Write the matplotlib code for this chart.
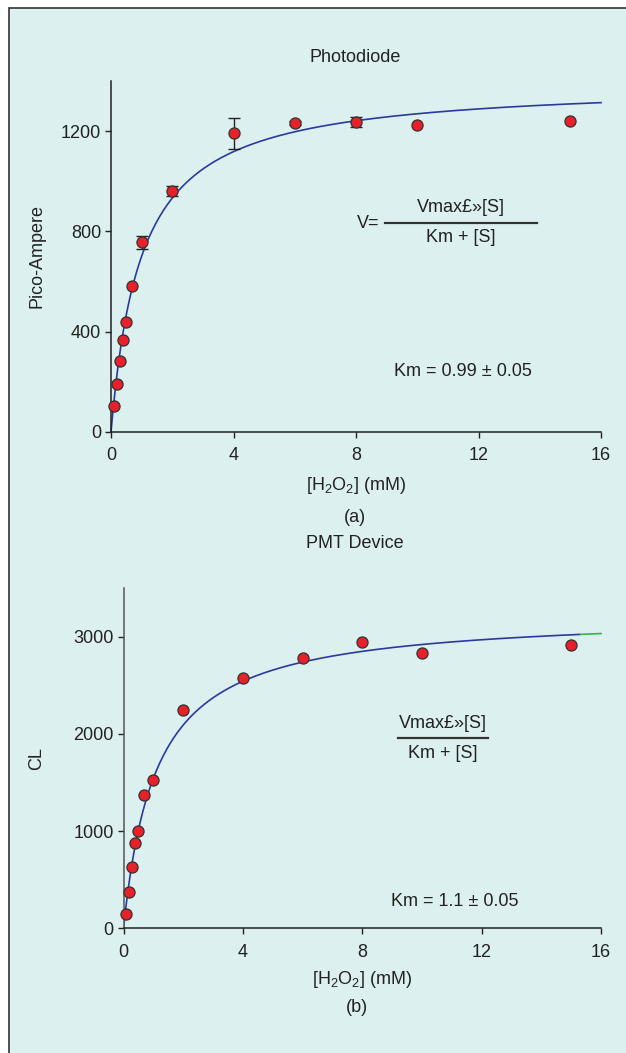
# Michaelis-Menten plots for H2O2: photodiode (a) and PMT device (b)

import numpy as np
import matplotlib
matplotlib.use('Agg')
import matplotlib.pyplot as plt
from matplotlib.patches import Rectangle
from matplotlib.lines import Line2D

plt.rcParams['font.family'] = ['Liberation Sans', 'DejaVu Sans']
plt.rcParams['mathtext.fontset'] = 'custom'
plt.rcParams['mathtext.rm'] = 'Liberation Sans'
plt.rcParams['mathtext.it'] = 'Liberation Sans'

# data
h2o2 = [0.1, 0.2, 0.3, 0.4, 0.5, 0.7, 1, 2, 4, 6, 8, 10, 15]
photodiode = [103, 190, 285, 368, 439, 583, 756, 961, 1191, 1232, 1237, 1223, 1240]
photodiode_err = [0, 0, 0, 0, 0, 0, 25, 20, 63, 8, 20, 0, 0]
pmt = [144, 373, 632, 873, 999, 1372, 1523, 2245, 2577, 2778, 2947, 2834, 2909]

# fitted Michaelis-Menten parameters
vmax_pd, km_pd = 1395, 0.99
vmax_pmt, km_pmt = 3240, 1.1

x_ticks = [0, 4, 8, 12, 16]
pd_yticks = [0, 400, 800, 1200]
pmt_yticks = [0, 1000, 2000, 3000]

W, H = 626, 1053
BG = '#dcf0ef'
RED = '#e8202a'
BLUE = '#2b3a9e'
FS = 13


def fx(px):
    return px / W


def fy(py):
    return 1 - py / H


def style_axes(ax, ylim, yticks):
    ax.set_facecolor('none')
    ax.set_xlim(0, 16)
    ax.set_ylim(*ylim)
    ax.set_xticks(x_ticks)
    ax.set_yticks(yticks)
    for s in ['top', 'right']:
        ax.spines[s].set_visible(False)
    for s in ['left', 'bottom']:
        ax.spines[s].set_color('#222222')
        ax.spines[s].set_linewidth(1.1)
    ax.tick_params(direction='out', length=4, width=1, colors='#222222',
                   labelsize=FS, pad=3)
    ax.tick_params(axis='x', pad=7)


def fraction(fig, num, den, x0, x1, yline, prefix=None):
    xc = fx((x0 + x1) / 2)
    fig.text(xc, fy(yline - 15), num, ha='center', va='center', fontsize=FS, color='#222222')
    fig.text(xc, fy(yline + 15), den, ha='center', va='center', fontsize=FS, color='#222222')
    fig.add_artist(Line2D([fx(x0), fx(x1)], [fy(yline), fy(yline)],
                          transform=fig.transFigure, color='#333333', lw=1.6))
    if prefix:
        fig.text(fx(x0 - 6), fy(yline), prefix, ha='right', va='center',
                 fontsize=FS, color='#222222')


fig = plt.figure(figsize=(W / 100, H / 100), dpi=100)
fig.patch.set_facecolor('white')
fig.add_artist(Rectangle((fx(9), -0.01), 1.02, fy(8) + 0.01, transform=fig.transFigure,
                         facecolor=BG, edgecolor='#333333', lw=1.2, zorder=0))

xs = np.linspace(0, 16, 400)

# (a) photodiode
ax1 = fig.add_axes([fx(111), fy(432), fx(601) - fx(111), fy(81) - fy(432)])
style_axes(ax1, (0, 1400), pd_yticks)
ax1.plot(xs, vmax_pd * xs / (km_pd + xs), color=BLUE, lw=1.2, zorder=2, clip_on=False)
errs = np.array(photodiode_err)
mask = errs > 0
ax1.errorbar(np.array(h2o2)[mask], np.array(photodiode)[mask], yerr=errs[mask],
             fmt='none', ecolor='#222222', elinewidth=1, capsize=4, capthick=1, zorder=3)
ax1.plot(h2o2, photodiode, 'o', ms=8, mfc=RED, mec='#333333', mew=0.9, zorder=4, clip_on=False)
ax1.set_ylabel('Pico-Ampere', fontsize=FS, color='#222222', labelpad=11)
ax1.set_xlabel('[H$_2$O$_2$] (mM)', fontsize=FS, color='#222222', labelpad=8)

fig.text(fx(355), fy(58), 'Photodiode', ha='center', va='center', fontsize=FS, color='#222222')
fig.text(fx(355), fy(517), '(a)', ha='center', va='center', fontsize=FS, color='#222222')
fraction(fig, 'Vmax£»[S]', 'Km + [S]', 385, 537, 223, prefix='V=')
fig.text(fx(463), fy(372), 'Km = 0.99 ± 0.05', ha='center', va='center', fontsize=FS, color='#222222')

# (b) PMT device
ax2 = fig.add_axes([fx(123.5), fy(928.3), fx(601) - fx(123.5), fy(588) - fy(928.3)])
style_axes(ax2, (0, 3500), pmt_yticks)
ax2.spines['left'].set_color('#555555')
curve = vmax_pmt * xs / (km_pmt + xs)
ax2.plot(xs[xs <= 15.3], curve[xs <= 15.3], color=BLUE, lw=1.2, zorder=2)
ax2.plot(xs[xs >= 15.3], curve[xs >= 15.3], color='#3cb04a', lw=1.2, zorder=2, clip_on=False)
ax2.plot(h2o2, pmt, 'o', ms=8, mfc=RED, mec='#333333', mew=0.9, zorder=4, clip_on=False)
ax2.set_ylabel('CL', fontsize=FS, color='#222222', labelpad=20)
ax2.set_xlabel('[H$_2$O$_2$] (mM)', fontsize=FS, color='#222222', labelpad=6)

fig.text(fx(355), fy(543), 'PMT Device', ha='center', va='center', fontsize=FS, color='#222222')
fig.text(fx(357), fy(1008), '(b)', ha='center', va='center', fontsize=FS, color='#222222')
fraction(fig, 'Vmax£»[S]', 'Km + [S]', 398, 488, 738)
fig.text(fx(455), fy(901), 'Km = 1.1 ± 0.05', ha='center', va='center', fontsize=FS, color='#222222')

fig.savefig('out.png', dpi=100, facecolor=fig.get_facecolor())
